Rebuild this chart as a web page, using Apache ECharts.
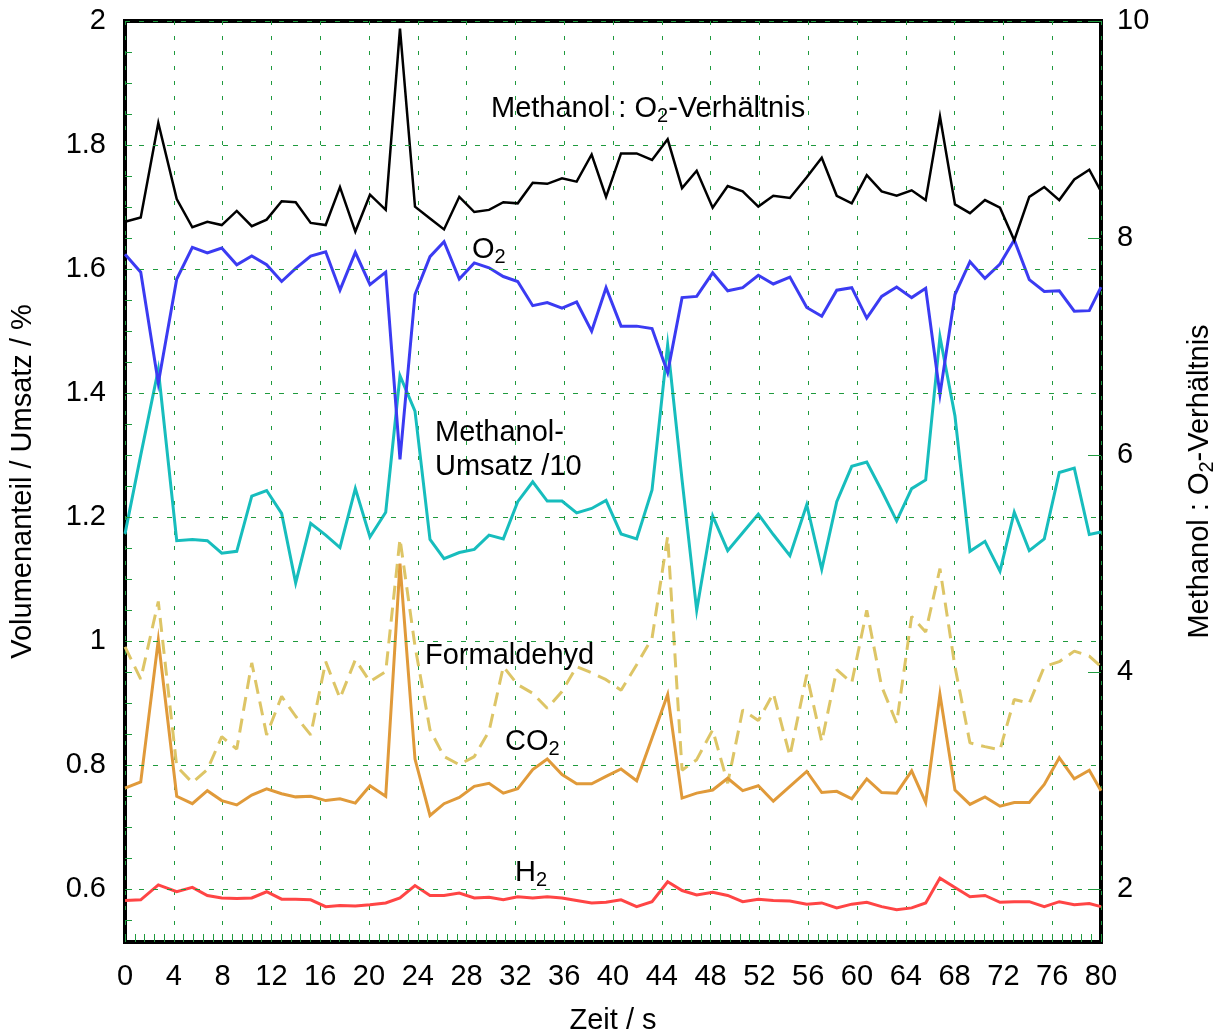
<!DOCTYPE html>
<html>
<head>
<meta charset="utf-8">
<title>Methanol-Oxidation: Zeitverlauf</title>
<script src="https://cdn.jsdelivr.net/npm/echarts@6/dist/echarts.min.js"></script>
<style>
  html, body { margin: 0; padding: 0; background: #ffffff; }
  #chart { width: 1223px; height: 1034px; }
</style>
</head>
<body>
<div id="chart"></div>
<script>
// ---- measured data --------------------------------------------------------
// sample times in seconds
const timeS = [0, 1.29, 2.73, 4.24, 5.52, 6.75, 7.93, 9.16, 10.39, 11.61,
  12.84, 13.99, 15.22, 16.45, 17.62, 18.88, 20.08, 21.37, 22.54, 23.77,
  25.0, 26.15, 27.4, 28.63, 29.84, 31.01, 32.19, 33.42, 34.61, 35.82,
  37.02, 38.25, 39.43, 40.66, 41.94, 43.2, 44.48, 45.66, 46.86, 48.17,
  49.4, 50.63, 51.91, 53.14, 54.5, 55.88, 57.11, 58.34, 59.57, 60.8,
  62.02, 63.25, 64.48, 65.63, 66.8, 68.03, 69.26, 70.49, 71.72, 72.89,
  74.12, 75.35, 76.58, 77.81, 79.04, 80.0];

// Methanol : O2 ratio (right axis)
const ratioMethanolO2 = [8.15, 8.19, 9.06, 8.36, 8.10, 8.15, 8.12, 8.25, 8.11, 8.17,
  8.34, 8.33, 8.14, 8.12, 8.47, 8.06, 8.40, 8.26, 9.93, 8.29,
  8.18, 8.08, 8.38, 8.24, 8.26, 8.33, 8.32, 8.51, 8.50, 8.55,
  8.52, 8.77, 8.38, 8.78, 8.78, 8.72, 8.91, 8.46, 8.62, 8.28,
  8.48, 8.43, 8.29, 8.39, 8.37, 8.56, 8.74, 8.39, 8.32, 8.58,
  8.43, 8.39, 8.44, 8.35, 9.12, 8.31, 8.23, 8.35, 8.28, 7.98,
  8.38, 8.47, 8.35, 8.54, 8.63, 8.43];

// O2 volume fraction / %
const o2 = [1.624, 1.595, 1.416, 1.584, 1.635, 1.626, 1.634, 1.607, 1.621, 1.607,
  1.580, 1.601, 1.621, 1.628, 1.566, 1.627, 1.575, 1.595, 1.293, 1.559,
  1.620, 1.644, 1.584, 1.610, 1.602, 1.588, 1.580, 1.541, 1.546, 1.537,
  1.547, 1.500, 1.570, 1.508, 1.508, 1.504, 1.433, 1.554, 1.556, 1.594,
  1.565, 1.570, 1.590, 1.576, 1.587, 1.538, 1.524, 1.566, 1.570, 1.521,
  1.556, 1.571, 1.554, 1.569, 1.398, 1.559, 1.612, 1.585, 1.608, 1.647,
  1.583, 1.564, 1.565, 1.532, 1.533, 1.571];

// methanol conversion divided by 10 / %
const umsatz10 = [1.173, 1.30, 1.438, 1.162, 1.164, 1.162, 1.142, 1.145, 1.234, 1.243,
  1.206, 1.094, 1.190, 1.171, 1.151, 1.246, 1.168, 1.208, 1.428, 1.371,
  1.164, 1.133, 1.143, 1.148, 1.171, 1.165, 1.225, 1.257, 1.226, 1.226,
  1.207, 1.214, 1.227, 1.173, 1.165, 1.244, 1.478, 1.26, 1.050, 1.202,
  1.146, 1.175, 1.205, 1.172, 1.138, 1.220, 1.116, 1.225, 1.282, 1.289,
  1.243, 1.194, 1.246, 1.260, 1.491, 1.363, 1.145, 1.161, 1.113, 1.208,
  1.146, 1.165, 1.272, 1.279, 1.172, 1.176];

// formaldehyde volume fraction / %
const formaldehyd = [0.991, 0.939, 1.064, 0.798, 0.772, 0.793, 0.846, 0.826, 0.965, 0.849,
  0.911, 0.879, 0.849, 0.967, 0.908, 0.970, 0.935, 0.951, 1.165, 0.992,
  0.857, 0.814, 0.801, 0.814, 0.855, 0.959, 0.930, 0.916, 0.892, 0.919,
  0.959, 0.949, 0.938, 0.921, 0.962, 1.005, 1.169, 0.792, 0.809, 0.857,
  0.771, 0.889, 0.872, 0.916, 0.815, 0.946, 0.838, 0.954, 0.933, 1.050,
  0.927, 0.868, 1.040, 1.015, 1.117, 0.959, 0.836, 0.830, 0.825, 0.906,
  0.900, 0.959, 0.967, 0.984, 0.976, 0.959];

// CO2 volume fraction / %
const co2 = [0.763, 0.773, 1.002, 0.750, 0.738, 0.759, 0.743, 0.736, 0.752, 0.762,
  0.754, 0.749, 0.750, 0.743, 0.746, 0.739, 0.767, 0.750, 1.125, 0.810,
  0.719, 0.738, 0.748, 0.766, 0.771, 0.755, 0.762, 0.793, 0.810, 0.785,
  0.770, 0.770, 0.782, 0.794, 0.775, 0.844, 0.914, 0.747, 0.755, 0.760,
  0.779, 0.759, 0.767, 0.742, 0.766, 0.790, 0.756, 0.758, 0.746, 0.778,
  0.756, 0.755, 0.791, 0.740, 0.914, 0.760, 0.737, 0.749, 0.734, 0.740,
  0.740, 0.769, 0.812, 0.778, 0.792, 0.759];

// H2 volume fraction / %
const h2 = [0.582, 0.583, 0.607, 0.596, 0.603, 0.590, 0.586, 0.585, 0.586, 0.596,
  0.584, 0.584, 0.583, 0.572, 0.574, 0.573, 0.575, 0.578, 0.586, 0.606,
  0.590, 0.590, 0.594, 0.586, 0.587, 0.583, 0.588, 0.586, 0.588, 0.586,
  0.582, 0.578, 0.579, 0.583, 0.572, 0.580, 0.612, 0.598, 0.591, 0.595,
  0.590, 0.580, 0.584, 0.582, 0.581, 0.576, 0.578, 0.570, 0.576, 0.579,
  0.572, 0.567, 0.570, 0.578, 0.618, 0.603, 0.588, 0.590, 0.579, 0.580,
  0.580, 0.572, 0.580, 0.575, 0.577, 0.572];

// axis ticks
const leftLabelValues = [0.6, 0.8, 1.0, 1.2, 1.4, 1.6, 1.8, 2.0];
const leftTickValues = [0.55, 0.6, 0.65, 0.7, 0.75, 0.8, 0.85, 0.9, 0.95, 1.0,
  1.05, 1.1, 1.15, 1.2, 1.25, 1.3, 1.35, 1.4, 1.45, 1.5, 1.55, 1.6, 1.65,
  1.7, 1.75, 1.8, 1.85, 1.9, 1.95];
const rightLabelValues = [2, 4, 6, 8, 10];

// ---- drawing --------------------------------------------------------------
const FONT = '"Liberation Sans", Arial, Helvetica, sans-serif';
const FS = 29;
const GREEN = '#1f9a3e';
const SUB = { fontSize: 20, fontFamily: FONT, color: '#000', padding: [15, 0, 0, 0] };
const MAIN = { fontSize: FS, fontFamily: FONT, color: '#000' };

const pairs = (vals) => timeS.map((t, i) => [t, vals[i]]);

const lineSeries = (name, vals, color, width, yAxisIndex, extra) => Object.assign({
  name: name,
  type: 'line',
  yAxisIndex: yAxisIndex,
  data: pairs(vals),
  showSymbol: false,
  symbol: 'none',
  silent: true,
  z: 3,
  lineStyle: { color: color, width: width, join: 'miter', cap: 'butt' },
  emphasis: { disabled: true },
  animation: false
}, extra || {});

const chart = echarts.init(document.getElementById('chart'), null, { renderer: 'canvas' });

chart.setOption({
  backgroundColor: '#ffffff',
  animation: false,
  textStyle: { fontFamily: FONT },
  grid: {
    left: 125, right: 122, top: 21, bottom: 92,
    containLabel: false,
    outerBoundsMode: 'none',
    show: true, borderColor: '#000', borderWidth: 4, backgroundColor: 'transparent'
  },
  xAxis: {
    type: 'value',
    min: 0, max: 80, interval: 4,
    name: 'Zeit / s',
    nameLocation: 'middle',
    nameGap: 64,
    nameTextStyle: { fontSize: FS, fontFamily: FONT, color: '#000' },
    axisLine: { show: false },
    axisTick: { show: true, inside: true, length: 8, lineStyle: { color: GREEN, width: 1 } },
    minorTick: { show: true, splitNumber: 5, length: 8, lineStyle: { color: GREEN, width: 1 } },
    axisLabel: { fontSize: FS, fontFamily: FONT, color: '#000', margin: 20 },
    splitLine: { show: true, lineStyle: { color: GREEN, width: 1, type: [4, 11] } }
  },
  yAxis: [
    {
      type: 'value',
      position: 'left',
      min: 0.515, max: 2,
      name: 'Volumenanteil / Umsatz / %',
      nameLocation: 'middle',
      nameRotate: 90,
      nameGap: 88,
      nameTextStyle: { fontSize: FS, fontFamily: FONT, color: '#000' },
      axisLine: { show: false },
      axisTick: { show: true, inside: true, length: 7, customValues: leftTickValues,
        lineStyle: { color: GREEN, width: 1 } },
      axisLabel: { fontSize: FS, fontFamily: FONT, color: '#000', margin: 19,
        customValues: leftLabelValues },
      splitLine: { show: false }
    },
    {
      type: 'value',
      position: 'right',
      min: 1.515, max: 10,
      name: '{t|Methanol : O}{s|2}{t|-Verhältnis}',
      nameLocation: 'middle',
      nameRotate: 90,
      nameGap: 81,
      nameTextStyle: { fontSize: FS, fontFamily: FONT, color: '#000', rich: { t: MAIN, s: SUB } },
      axisLine: { show: false },
      axisTick: { show: true, inside: true, length: 13, customValues: rightLabelValues,
        lineStyle: { color: GREEN, width: 1 } },
      axisLabel: { fontSize: FS, fontFamily: FONT, color: '#000', margin: 16,
        customValues: rightLabelValues },
      splitLine: { show: false }
    }
  ],
  series: [
    // horizontal dashed grid lines at the labelled left-axis values
    {
      name: 'grid',
      type: 'line',
      yAxisIndex: 0,
      data: [],
      silent: true,
      z: 1,
      animation: false,
      markLine: {
        silent: true,
        symbol: ['none', 'none'],
        label: { show: false },
        emphasis: { disabled: true },
        animation: false,
        lineStyle: { color: GREEN, width: 1, type: [5, 9] },
        data: leftLabelValues.map(v => ({ yAxis: v }))
      }
    },
    lineSeries('Formaldehyd', formaldehyd, '#ddc566', 3, 0,
      { lineStyle: { color: '#ddc566', width: 3, type: [14, 8], cap: 'butt' } }),
    lineSeries('CO2', co2, '#e09a3a', 3, 0),
    lineSeries('H2', h2, '#ff4545', 3, 0),
    lineSeries('Methanol-Umsatz /10', umsatz10, '#17bdbd', 3, 0),
    lineSeries('O2', o2, '#3b3bf2', 3, 0),
    lineSeries('Methanol : O2-Verhältnis', ratioMethanolO2, '#000000', 2.5, 1),
    // in-plot series captions
    {
      name: 'captions',
      type: 'line',
      yAxisIndex: 0,
      data: [],
      silent: true,
      z: 10,
      animation: false,
      markPoint: {
        silent: true,
        symbol: 'circle',
        symbolSize: 0,
        animation: false,
        label: {
          show: true, position: 'right', distance: 0,
          fontSize: FS, fontFamily: FONT, color: '#000', lineHeight: 34,
          rich: { t: MAIN, s: SUB }
        },
        data: [
          { coord: [30.0, 1.858], label: { formatter: '{t|Methanol : O}{s|2}{t|-Verhältnis}' } },
          { coord: [28.44, 1.630], label: { formatter: '{t|O}{s|2}' } },
          { coord: [25.41, 1.308], label: { formatter: 'Methanol-\nUmsatz /10' } },
          { coord: [24.59, 0.976], label: { formatter: 'Formaldehyd' } },
          { coord: [31.15, 0.838], label: { formatter: '{t|CO}{s|2}' } },
          { coord: [31.97, 0.627], label: { formatter: '{t|H}{s|2}' } }
        ]
      }
    }
  ]
});
</script>
</body>
</html>
